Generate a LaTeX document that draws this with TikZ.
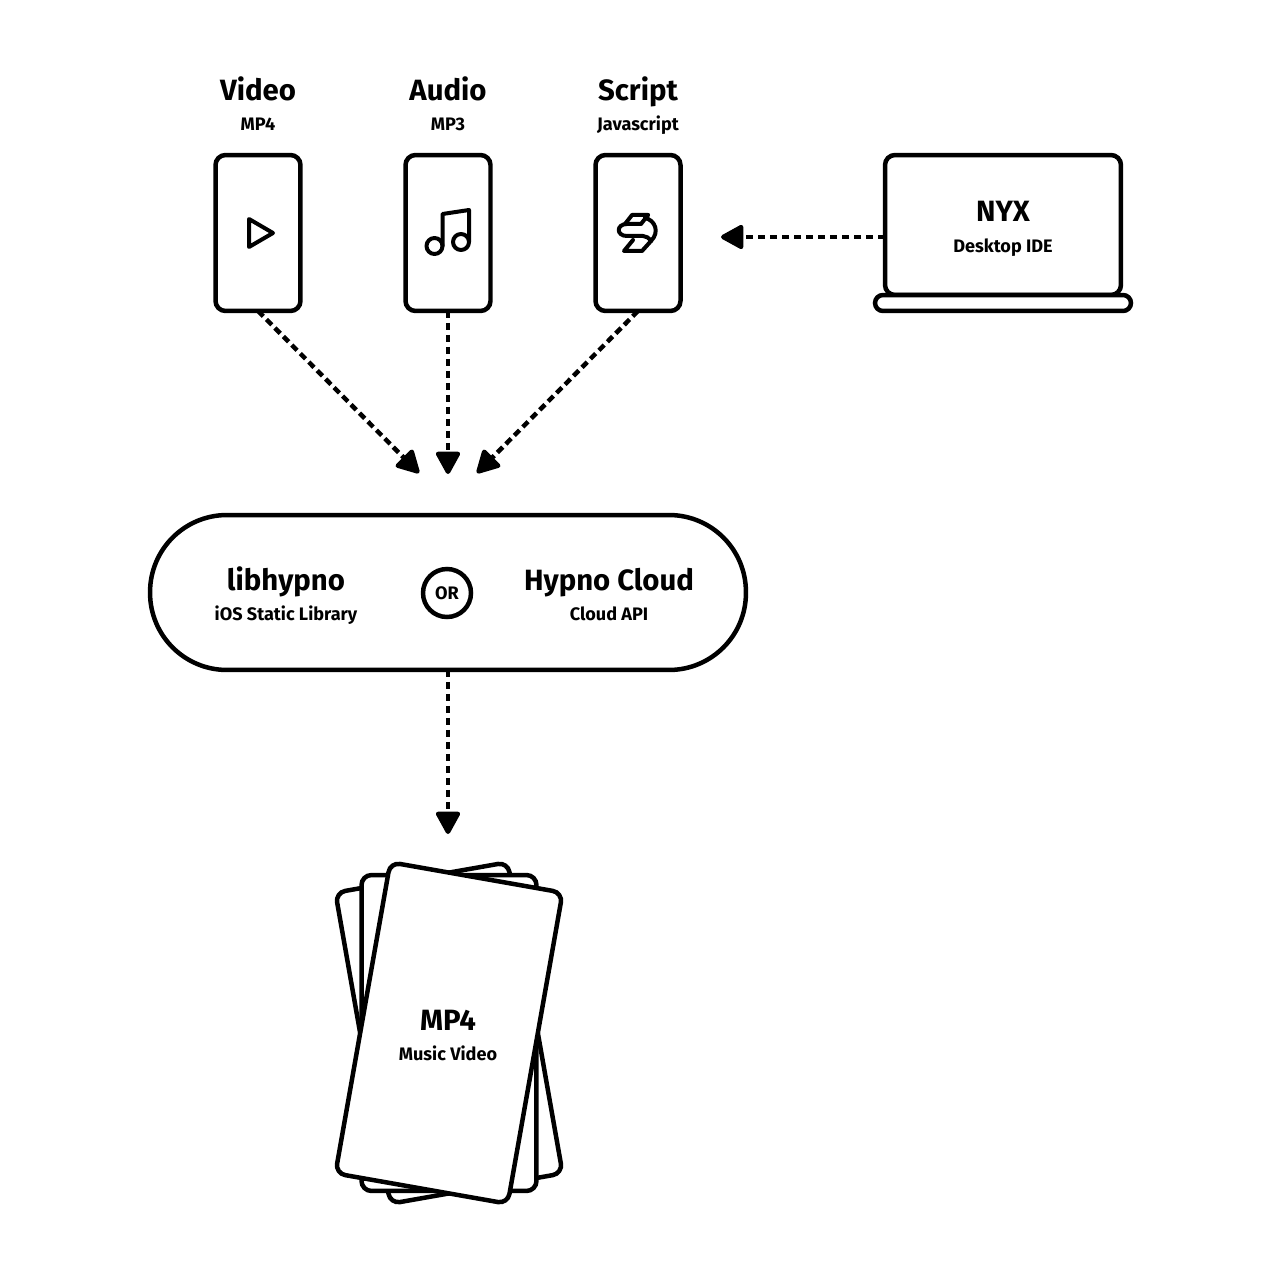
\documentclass[tikz,border=0pt]{standalone}
\usepackage{fontspec}
\setmainfont{Fira Sans}
\usetikzlibrary{arrows.meta,positioning}

\tikzset{
  box/.style={draw, line width=0.09cm, rounded corners=0.2cm, fill=white, inner sep=0pt, outer sep=0pt},
  phone/.style={box, minimum width=1.7cm, minimum height=3.12cm},
  card/.style={box, minimum width=3.5cm, minimum height=6.32cm},
  flow/.style={line width=0.09cm, dash pattern=on 0.15cm off 0.09cm, -{Triangle[length=0.5cm,width=0.52cm,round]}},
  glyph/.style={line width=0.08cm, line join=round, line cap=round},
  titletext/.style={anchor=base, inner sep=0pt, font=\fontsize{16.7pt}{20pt}\selectfont\bfseries},
  subtext/.style={anchor=base, inner sep=0pt, font=\fontsize{10.3pt}{12pt}\selectfont\bfseries}
}

\begin{document}
\begin{tikzpicture}[x=0.02cm,y=-0.02cm]
  \useasboundingbox (0,0) rectangle (1280,1280);

  % Source Files
  \node[phone] (video) at (258,233) {};
  \node[phone] (audio) at (448,233) {};
  \node[phone] (script) at (638,233) {};
  \node[titletext] (videotitle) at (258,101) {Video};
  \node[subtext] (videosub) at (258,131) {MP4};
  \node[titletext] (audiotitle) at (448,101) {Audio};
  \node[subtext] (audiosub) at (448,131) {MP3};
  \node[titletext] (scripttitle) at (638,101) {Script};
  \node[subtext] (scriptsub) at (638,131) {Javascript};

  % Play Icon
  \draw[glyph] (249,219) -- (273,233) -- (249,247) -- cycle;
  % Note Icon
  \draw[glyph] (434.5,246) circle (8);
  \draw[glyph] (461,242) circle (8);
  \draw[glyph] (442.5,246) -- (442.5,214) -- (469,210) -- (469,242);
  % Script Icon
  \draw[glyph] (648,215) -- (632,215) -- (625,224);
  \draw[glyph] (648,215) -- (641,224) -- (627,224) .. controls (616,224) and (616,236) .. (627,236) -- (643,236) .. controls (646,236) and (649,238) .. (651,241);
  \draw[glyph] (645,218) .. controls (655,220) and (660,232) .. (651,241) -- (642,251) -- (624,251) -- (633,240);

  % Desktop IDE
  \node[box, minimum width=4.72cm, minimum height=2.8cm] (laptop) at (1003,225) {};
  \node[box, rounded corners=0.16cm, minimum width=5.12cm, minimum height=0.32cm] (laptopbase) at (1003,303) {};
  \node[titletext] (nyxtitle) at (1003,222) {NYX};
  \node[subtext] (nyxsub) at (1003,252.5) {Desktop IDE};

  % Engine
  \node[box, rounded corners=1.54cm, minimum width=11.92cm, minimum height=3.1cm] (engine) at (448,592.5) {};
  \node[titletext] (libtitle) at (286,590) {libhypno};
  \node[subtext] (libsub) at (286,620) {iOS Static Library};
  \node[titletext] (cloudtitle) at (609,590) {Hypno Cloud};
  \node[subtext] (cloudsub) at (609,620) {Cloud API};
  \node[draw, circle, line width=0.09cm, minimum size=0.96cm, inner sep=0pt, outer sep=0pt, font=\fontsize{10.3pt}{12pt}\selectfont\bfseries] (or) at (447,593) {OR};

  % Output Cards
  \node[card, rotate=10] (cardback) at (449,1033) {};
  \node[card] (cardmid) at (449,1033) {};
  \node[card, rotate=-10] (cardfront) at (449,1033) {};
  \node[titletext] (cardtitle) at (448,1030) {MP4};
  \node[subtext] (cardsub) at (448,1060) {Music Video};

  % Connectors
  \coordinate (videotip) at (419,473);
  \coordinate (audiotip) at (448,474);
  \coordinate (scripttip) at (477,473);
  \coordinate (nyxtip) at (721,237);
  \coordinate (cardtip) at (448,834);
  \draw[flow] (video.south) -- (videotip);
  \draw[flow] (audio.south) -- (audiotip);
  \draw[flow] (script.south) -- (scripttip);
  \draw[flow] (laptop.west |- nyxtip) -- (nyxtip);
  \draw[flow] (engine.south) -- (cardtip);
\end{tikzpicture}
\end{document}
